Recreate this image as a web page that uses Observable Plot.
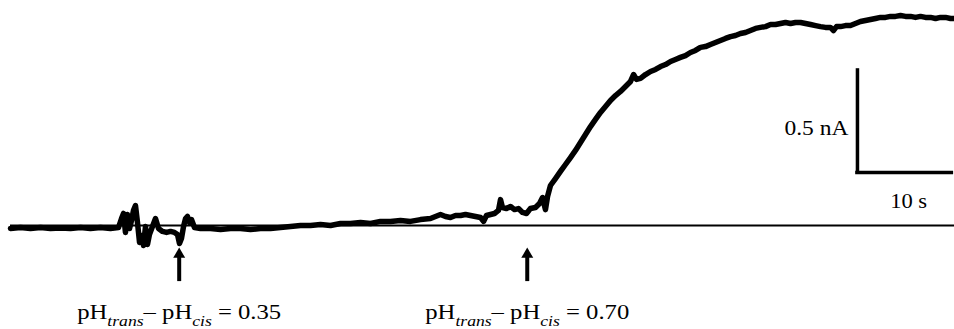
<!DOCTYPE html>
<html><head><meta charset="utf-8">
<script src="https://cdn.jsdelivr.net/npm/d3@7"></script>
<script src="https://cdn.jsdelivr.net/npm/@observablehq/plot@0.6"></script>
<style>html,body{margin:0;padding:0;background:#fff;} #chart svg{display:block;}</style>
</head><body><div id="chart"></div>
<script>
// Recorded current trace: time (s) and current (nA)
const time = [0,1.06,2.12,3.18,4.24,5.30,6.36,7.42,8.47,9.53,10.59,
  11.44,11.76,11.97,12.18,12.39,12.61,12.82,13.03,13.24,13.45,13.67,13.88,14.09,14.30,14.51,14.72,15.04,15.36,15.68,16.10,16.53,16.95,17.37,17.69,17.90,18.11,18.33,18.54,18.75,18.96,19.17,19.49,
  20.13,21.19,22.25,23.31,24.36,25.42,26.48,27.54,28.60,29.66,30.72,31.78,32.84,33.90,34.96,36.02,37.08,38.14,39.19,40.25,41.31,42.37,43.43,44.49,45.55,46.08,46.61,47.14,47.67,48.20,48.73,49.26,49.79,50.11,50.42,50.85,51.27,51.69,51.91,52.12,52.54,52.97,53.39,53.81,54.24,54.66,55.08,55.61,56.04,56.36,56.67,56.89,57.20,57.73,58.26,58.79,59.32,59.85,60.38,60.91,61.44,61.97,62.50,63.03,63.56,64.09,64.62,65.15,65.68,66.00,66.31,66.74,67.27,67.80,68.33,68.86,69.39,69.92,70.44,70.97,71.50,72.03,72.56,73.09,73.62,74.15,74.68,75.21,75.74,76.27,76.80,77.33,77.86,78.39,78.92,79.45,79.98,80.51,81.04,81.57,82.10,82.63,83.16,83.69,84.22,84.75,85.28,85.81,86.33,86.86,87.18,87.50,87.92,88.45,88.98,89.51,90.04,90.57,91.10,91.63,92.16,92.69,93.22,93.75,94.28,94.81,95.34,95.87,96.40,96.93,97.46,97.99,98.52,99.05,99.58,100.0];
const current = [-0.015,-0.010,-0.015,-0.010,-0.015,-0.012,-0.015,-0.010,-0.015,-0.010,-0.015,
  -0.010,0.034,0.059,-0.034,0.054,-0.015,0.025,0.074,0.098,0.015,-0.083,-0.049,-0.098,-0.005,-0.093,-0.044,-0.005,0.034,-0.015,-0.029,-0.034,-0.029,-0.034,-0.044,-0.088,-0.064,-0.005,0.034,0.044,0.015,0.029,-0.010,
  -0.015,-0.015,-0.020,-0.015,-0.015,-0.020,-0.015,-0.015,-0.010,-0.005,0,0,0.005,0,0.010,0.010,0.015,0.010,0.020,0.020,0.025,0.020,0.029,0.034,0.054,0.044,0.039,0.049,0.049,0.054,0.049,0.044,0.039,0.020,0.049,0.054,0.059,0.074,0.127,0.088,0.083,0.093,0.078,0.083,0.064,0.059,0.083,0.088,0.108,0.137,0.078,0.142,0.196,0.230,0.265,0.299,0.333,0.368,0.407,0.446,0.485,0.520,0.554,0.583,0.613,0.637,0.657,0.681,0.706,0.740,0.716,0.721,0.740,0.755,0.765,0.779,0.789,0.804,0.814,0.824,0.833,0.848,0.858,0.873,0.877,0.887,0.897,0.907,0.917,0.926,0.931,0.941,0.946,0.956,0.966,0.971,0.975,0.985,0.985,0.990,0.995,0.990,0.995,0.995,0.990,0.985,0.980,0.975,0.971,0.971,0.956,0.975,0.975,0.980,0.980,0.990,1.000,1.005,1.010,1.015,1.020,1.020,1.025,1.025,1.029,1.025,1.025,1.020,1.025,1.020,1.020,1.015,1.020,1.020,1.015,1.015];

// pH-step events
const eventTime = [17.87, 54.74];
const eventDeltaPH = [0.35, 0.70];

// scale bar
const scaleBarTime = 10;      // s
const scaleBarCurrent = 0.5;  // nA
const scaleBarLabels = ["0.5 nA", "10 s"];

const trace = time.map((t, i) => ({t, I: current[i]}));
const events = eventTime.map((t, i) => ({t, dpH: eventDeltaPH[i]}));

const sbX = 89.72, sbY = 0.26;   // scale-bar corner (layout)
const font = '"Liberation Serif", "Times New Roman", Times, serif';

const svg = Plot.plot({
  width: 954, height: 329,
  marginLeft: 10, marginRight: 0, marginTop: 0, marginBottom: 0,
  x: {domain: [0, 100], axis: null},
  y: {domain: [-0.5098, 1.1029], axis: null},
  style: {fontFamily: font, fontSize: "21px", background: "white", color: "black", overflow: "visible"},
  marks: [
    Plot.ruleY([0], {x1: 0, x2: 100, stroke: "black", strokeWidth: 2}),
    Plot.line(trace, {x: "t", y: "I", stroke: "black", strokeWidth: 5.5, strokeLinejoin: "round", strokeLinecap: "round"}),
    Plot.ruleX(events, {x: "t", y1: -0.152, y2: -0.275, stroke: "black", strokeWidth: 4}),
    Plot.dot(events, {x: "t", y: -0.1417, symbol: "triangle", r: 4.45, fill: "black", stroke: null}),
    Plot.text(events, {x: "t", y: -0.4245, text: d => `pHtrans– pHcis = ${d.dpH.toFixed(2)}`, textAnchor: "middle", fontSize: 21, fill: "black"}),
    Plot.ruleX([scaleBarCurrent], {x: sbX, y1: sbY, y2: d => sbY + d, stroke: "black", strokeWidth: 3.5, strokeLinecap: "square"}),
    Plot.ruleY([scaleBarTime], {y: sbY, x1: sbX, x2: d => sbX + d, stroke: "black", strokeWidth: 3.5, strokeLinecap: "square"}),
    Plot.text([scaleBarLabels[0]], {x: sbX, y: sbY + scaleBarCurrent / 2, text: d => d, textAnchor: "end", dx: -9, dy: 7, fontSize: 21, fill: "black"}),
    Plot.text([scaleBarLabels[1]], {x: sbX + scaleBarTime / 2, y: sbY, text: d => d, textAnchor: "middle", dx: 4, dy: 29, fontSize: 21, fill: "black"})
  ]
});

// subscripts + horizontal stretch of the labels
let k = 0;
d3.select(svg).selectAll("text").each(function() {
  const s = this.textContent;
  const t = d3.select(this);
  if (s.startsWith("pH")) {
    const v = eventDeltaPH[k++].toFixed(2);
    t.text(null);
    t.append("tspan").text("pH");
    t.append("tspan").attr("font-style", "italic").attr("font-size", 15).attr("dy", 7).text("trans");
    t.append("tspan").attr("dy", -7).text("– pH");
    t.append("tspan").attr("font-style", "italic").attr("font-size", 15).attr("dy", 7).text("cis");
    t.append("tspan").attr("dy", -7).text(` = ${v}`);
    t.attr("textLength", 204).attr("lengthAdjust", "spacingAndGlyphs");
  } else if (s === scaleBarLabels[0]) {
    t.attr("textLength", 64).attr("lengthAdjust", "spacingAndGlyphs");
  } else if (s === scaleBarLabels[1]) {
    t.attr("textLength", 37).attr("lengthAdjust", "spacingAndGlyphs");
  }
});

document.getElementById("chart").appendChild(svg);
</script>
</body></html>
